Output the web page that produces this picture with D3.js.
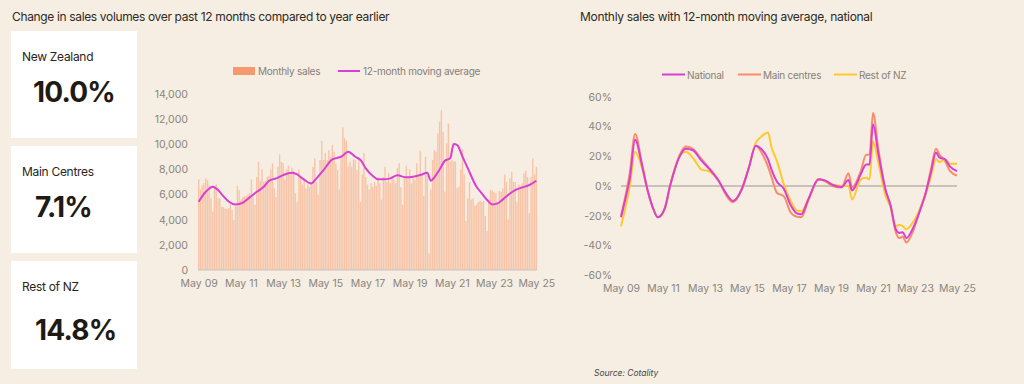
<!DOCTYPE html>
<html>
<head>
<meta charset="utf-8">
<script src="https://cdn.jsdelivr.net/npm/d3@7"></script>
<style>
    body { margin: 0; background: #f6eee2; }
    svg { display: block; font-family: Inter, "Noto Sans", sans-serif; }
    .tick text { fill: #8a8580; }
</style>
</head>
<body>
<script>
// Headline numbers
const kpiLabels = ['New Zealand', 'Main Centres', 'Rest of NZ'];
const kpiValues = ['10.0%', '7.1%', '14.8%'];

// Monthly sales, May 2009 to May 2025
const firstMonth = '2009-05';
const monthlySales = [
    7200, 6400, 6750, 6900, 7300, 7150, 6750, 5700,                      // 2009
    4650, 6600, 6830, 5700, 5700, 5040, 5000, 4900, 4860, 4900, 5250, 4770,  // 2010
    3980, 5050, 6700, 6360, 5600, 5800, 5850, 5900, 6000, 6150, 7200, 5800,  // 2011
    5200, 7400, 8600, 7100, 8000, 7000, 7100, 7400, 7500, 8000, 8500, 6500,  // 2012
    5800, 8200, 9200, 8600, 8500, 7200, 8000, 8300, 7600, 8100, 7900, 6100,  // 2013
    5400, 8000, 7400, 6800, 7300, 6500, 6800, 6600, 7000, 8200, 8900, 7000,  // 2014
    6000, 8750, 10280, 8750, 9330, 8750, 9540, 9010, 9940, 9410, 8480, 7950, // 2015
    6400, 9140, 11340, 10470, 10280, 8220, 8620, 8220, 8800, 8750, 7950, 8900, // 2016
    5400, 7600, 9300, 7400, 6800, 6400, 6900, 6600, 7000, 6700, 7400, 6900,  // 2017
    5600, 7400, 8200, 7000, 7700, 6900, 7400, 7200, 6900, 8100, 8500, 6600,  // 2018
    5200, 7300, 8300, 7300, 8000, 6900, 7300, 7200, 8500, 7400, 9500, 7500,  // 2019
    5900, 9000, 7600, 1320, 6400, 8750, 9540, 9410, 10870, 11800, 12720, 11000, // 2020
    6230, 10070, 11660, 8620, 8750, 8620, 8620, 6500, 6620, 8000, 9600, 7600, // 2021
    3900, 5700, 7000, 5600, 5700, 5100, 5200, 5400, 5500, 5400, 5500, 4300,  // 2022
    3100, 5600, 6400, 6300, 6200, 6100, 5400, 6300, 6200, 6500, 7600, 7000,  // 2023
    4000, 7300, 7800, 7000, 7000, 5400, 6800, 6700, 6900, 7700, 7900, 7400,  // 2024
    4500, 7400, 8900, 7600, 8200                                          // 2025
];

// 12-month moving average, read at turning points
const maMonths = ['2009-05', '2009-09', '2010-01', '2010-04', '2010-07', '2010-10', '2011-02', '2011-06',
    '2011-10', '2012-02', '2012-06', '2012-09', '2013-01', '2013-05', '2013-10', '2014-01', '2014-04',
    '2014-09', '2014-12', '2015-04', '2015-09', '2016-02', '2016-06', '2016-10', '2017-01', '2017-04',
    '2017-08', '2017-11', '2018-02', '2018-06', '2018-10', '2019-03', '2019-07', '2019-11', '2020-03',
    '2020-05', '2020-07', '2020-10', '2021-01', '2021-04', '2021-06', '2021-08', '2021-11', '2022-02',
    '2022-07', '2022-10', '2023-01', '2023-04', '2023-07', '2023-10', '2024-02', '2024-05', '2024-09',
    '2025-01', '2025-05'];
const maValues = [5430, 6220, 6620, 6360, 5880, 5450, 5220, 5350,
    5780, 6220, 6620, 7100, 7290, 7550, 7740, 7600, 7290,
    6890, 7290, 7950, 8800, 9010, 9410, 9010, 8750, 8080,
    7470, 7210, 7210, 7290, 7530, 7370, 7420, 7550, 7740,
    7100, 7370, 8000, 8700, 8880, 10020, 9940, 9010, 8080,
    6620, 6090, 5570, 5220, 5300, 5620, 6090, 6360, 6570,
    6760, 7100];
const salesTicks = [0, 2000, 4000, 6000, 8000, 10000, 12000, 14000];

// Annual % change, three regions
const pctMonths = ['2009-05', '2009-08', '2009-10', '2010-01', '2010-05', '2010-08', '2010-11', '2011-02',
    '2011-06', '2011-09', '2012-03', '2012-06', '2012-10', '2013-03', '2013-07', '2014-01', '2014-05',
    '2014-09', '2015-02', '2015-06', '2015-10', '2016-01', '2016-05', '2016-07', '2016-10', '2017-02',
    '2017-06', '2017-09', '2017-12', '2018-04', '2018-10', '2019-02', '2019-06', '2019-11', '2020-03',
    '2020-05', '2020-10', '2021-01', '2021-03', '2021-05', '2021-08', '2021-12', '2022-03', '2022-06',
    '2022-08', '2022-10', '2022-12', '2023-04', '2023-08', '2023-11', '2024-02', '2024-05', '2024-07',
    '2024-10', '2025-01', '2025-05'];
const national = [-21, -6, 5, 31, 14, -2, -14, -21, -15, 0, 21, 25, 24, 17, 12, 3, -5,
    -10, -2, 12, 27, 25, 18, 11, 3, -2, -13, -18, -19, -9, 4.5, 3.4, 0.7, -0.7, 4,
    -3, 8, 14.5, 14.5, 41.5, 22, -2, -13, -29, -31.5, -31, -35, -28, -16, -5, 9, 22.5, 19,
    18, 13, 10];
const mainCentres = [-20, -4, 9, 35, 15, -2, -14, -21, -15, 0, 22, 26.5, 25, 18, 12.5, 3, -6,
    -11, -2, 12, 27, 23, 13, 6, -4.5, -7, -18, -20.5, -21, -10, 4.5, 3, 0, -1, 8.5,
    -1, 10, 21, 21, 49, 25, -2, -13, -31, -35, -34, -38, -30, -15, -5, 11, 25, 21,
    17, 10, 7];
const restOfNZ = [-27, -12, 0, 23, 12, -2, -14, -21, -16, 0, 21, 23, 19, 11, 10, 3, -5,
    -10, -2, 12, 29, 33, 36, 26, 17, 1, -10, -16, -17, -9, 4.5, 3.4, 1, 0, 0,
    -9, 4.5, 5.5, 4.5, 30, 16, -6, -14, -27, -26, -27, -29, -24, -15, -6, 6, 18, 16,
    18, 15, 15];
const pctTicks = [-60, -40, -20, 0, 20, 40, 60];
const axisTicks = ['2009-05', '2011-05', '2013-05', '2015-05', '2017-05', '2019-05', '2021-05', '2023-05', '2025-05'];

const parseMonth = d3.timeParse('%Y-%m');
const fmtMonth = d3.timeFormat('%b %y');

const svg = d3.select('body').append('svg')
    .attr('width', 1024)
    .attr('height', 384);

svg.append('rect')
    .attr('width', 1024).attr('height', 384)
    .attr('fill', '#f6eee2');

// ---- Titles
svg.append('text')
    .attr('x', 12).attr('y', 21)
    .attr('font-size', 12).attr('fill', '#2e2a26')
    .attr('letter-spacing', -0.35)
    .text('Change in sales volumes over past 12 months compared to year earlier');

svg.append('text')
    .attr('x', 580).attr('y', 21)
    .attr('font-size', 12).attr('fill', '#2e2a26')
    .attr('letter-spacing', -0.3)
    .text('Monthly sales with 12-month moving average, national');

// ---- KPI boxes
const boxTop = [31, 146, 261];
const boxH = [107, 107, 108];
const kpi = svg.selectAll('.kpi')
    .data(kpiLabels)
    .enter()
    .append('g')
    .attr('class', 'kpi')
    .attr('transform', (d, i) => 'translate(11,' + boxTop[i] + ')');
kpi.append('rect')
    .attr('width', 126)
    .attr('height', (d, i) => boxH[i])
    .attr('fill', '#ffffff');
kpi.append('text')
    .attr('x', 11).attr('y', 30)
    .attr('font-size', 12).attr('fill', '#2a2520')
    .attr('letter-spacing', -0.3)
    .text(d => d);
kpi.append('text')
    .attr('x', (d, i) => [22, 24, 24][i]).attr('y', (d, i) => [71, 71, 79][i])
    .attr('font-size', 28).attr('font-weight', 700).attr('fill', '#1f1a14')
    .attr('letter-spacing', -0.8)
    .text((d, i) => kpiValues[i]);

// ---- Left chart: monthly sales bars + moving average
const salesMonths = monthlySales.map((v, i) => d3.timeMonth.offset(parseMonth(firstMonth), i));

const xBand = d3.scaleBand()
    .domain(salesMonths)
    .range([198, 537])
    .paddingInner(0.22);

const xSales = d3.scaleTime()
    .domain([salesMonths[0], salesMonths[salesMonths.length - 1]])
    .range([xBand(salesMonths[0]) + xBand.bandwidth() / 2,
            xBand(salesMonths[salesMonths.length - 1]) + xBand.bandwidth() / 2]);

const ySales = d3.scaleLinear()
    .domain([0, 14000])
    .range([270, 94]);

svg.append('g')
    .selectAll('rect')
    .data(monthlySales)
    .enter()
    .append('rect')
    .attr('x', (d, i) => xBand(salesMonths[i]))
    .attr('y', d => ySales(d))
    .attr('width', xBand.bandwidth())
    .attr('height', d => ySales(0) - ySales(d))
    .attr('fill', '#f8a984')
    .attr('fill-opacity', 0.62);

svg.append('line')
    .attr('x1', 198).attr('x2', 537)
    .attr('y1', ySales(0)).attr('y2', ySales(0))
    .attr('stroke', '#c8c2bb').attr('stroke-width', 1);

const maLine = d3.line()
    .x((d, i) => xSales(parseMonth(maMonths[i])))
    .y(d => ySales(d))
    .curve(d3.curveMonotoneX);

svg.append('path')
    .datum(maValues)
    .attr('d', maLine)
    .attr('fill', 'none')
    .attr('stroke', '#d93fd3')
    .attr('stroke-width', 2);

svg.append('g')
    .attr('transform', 'translate(190,0)')
    .call(d3.axisLeft(ySales).tickValues(salesTicks).tickSize(0).tickPadding(2)
        .tickFormat(d3.format(',')))
    .call(g => g.select('.domain').remove())
    .selectAll('text')
    .attr('font-size', 10.5)
    .attr('font-family', 'Inter, sans-serif');

svg.append('g')
    .attr('transform', 'translate(0,' + ySales(0) + ')')
    .call(d3.axisBottom(xSales).tickValues(axisTicks.map(parseMonth)).tickSize(0).tickPadding(10)
        .tickFormat(fmtMonth))
    .call(g => g.select('.domain').remove())
    .selectAll('text')
    .attr('font-size', 10.5)
    .attr('font-family', 'Inter, sans-serif');

// legend, left chart
const leftLegend = svg.append('g').attr('font-size', 10).attr('fill', '#85807a');
leftLegend.append('rect')
    .attr('x', 233).attr('y', 67).attr('width', 22).attr('height', 8)
    .attr('fill', '#f7996e');
leftLegend.append('text').attr('x', 258).attr('y', 75).attr('letter-spacing', -0.25).text('Monthly sales');
leftLegend.append('line')
    .attr('x1', 338).attr('x2', 360).attr('y1', 71).attr('y2', 71)
    .attr('stroke', '#d93fd3').attr('stroke-width', 2);
leftLegend.append('text').attr('x', 363).attr('y', 75).attr('letter-spacing', -0.25).text('12-month moving average');

// ---- Right chart: annual change by region
const seriesNames = ['Main centres', 'Rest of NZ', 'National'];
const seriesValues = [mainCentres, restOfNZ, national];
const seriesColors = ['#f98c6b', '#fdc92e', '#d93fd3'];

const xPct = d3.scaleTime()
    .domain([parseMonth('2009-05'), parseMonth('2025-05')])
    .range([621, 957]);

const yPct = d3.scaleLinear()
    .domain([-60, 60])
    .range([275.3, 96.7]);

svg.append('line')
    .attr('x1', xPct.range()[0]).attr('x2', xPct.range()[1])
    .attr('y1', yPct(0)).attr('y2', yPct(0))
    .attr('stroke', '#9a9590').attr('stroke-width', 1);

const pctLine = d3.line()
    .x((d, i) => xPct(parseMonth(pctMonths[i])))
    .y(d => yPct(d))
    .curve(d3.curveMonotoneX);

svg.append('g')
    .selectAll('path')
    .data(seriesValues)
    .enter()
    .append('path')
    .attr('d', pctLine)
    .attr('fill', 'none')
    .attr('stroke', (d, i) => seriesColors[i])
    .attr('stroke-width', 2);

svg.append('g')
    .attr('transform', 'translate(614,0)')
    .call(d3.axisLeft(yPct).tickValues(pctTicks).tickSize(0).tickPadding(2)
        .tickFormat(d => d + '%'))
    .call(g => g.select('.domain').remove())
    .selectAll('text')
    .attr('font-size', 10.5)
    .attr('font-family', 'Inter, sans-serif');

svg.append('g')
    .attr('transform', 'translate(0,' + yPct(-60) + ')')
    .call(d3.axisBottom(xPct).tickValues(axisTicks.map(parseMonth)).tickSize(0).tickPadding(9)
        .tickFormat(fmtMonth))
    .call(g => g.select('.domain').remove())
    .selectAll('text')
    .attr('font-size', 10.5)
    .attr('font-family', 'Inter, sans-serif');

// legend, right chart (National first)
const legendOrder = [2, 0, 1];
const legendX = [662, 738, 834];
const rightLegend = svg.append('g').attr('font-size', 10).attr('fill', '#85807a');
legendOrder.forEach(function (s, j) {
    rightLegend.append('line')
        .attr('x1', legendX[j]).attr('x2', legendX[j] + 23)
        .attr('y1', 74.5).attr('y2', 74.5)
        .attr('stroke', seriesColors[s]).attr('stroke-width', 2);
    rightLegend.append('text')
        .attr('x', legendX[j] + 25).attr('y', 78.5)
        .attr('letter-spacing', -0.25)
        .text(seriesNames[s]);
});

// source note
svg.append('text')
    .attr('x', 594).attr('y', 376)
    .attr('font-size', 8.5).attr('font-style', 'italic').attr('fill', '#4a4540')
    .text('Source: Cotality');
</script>
</body>
</html>
